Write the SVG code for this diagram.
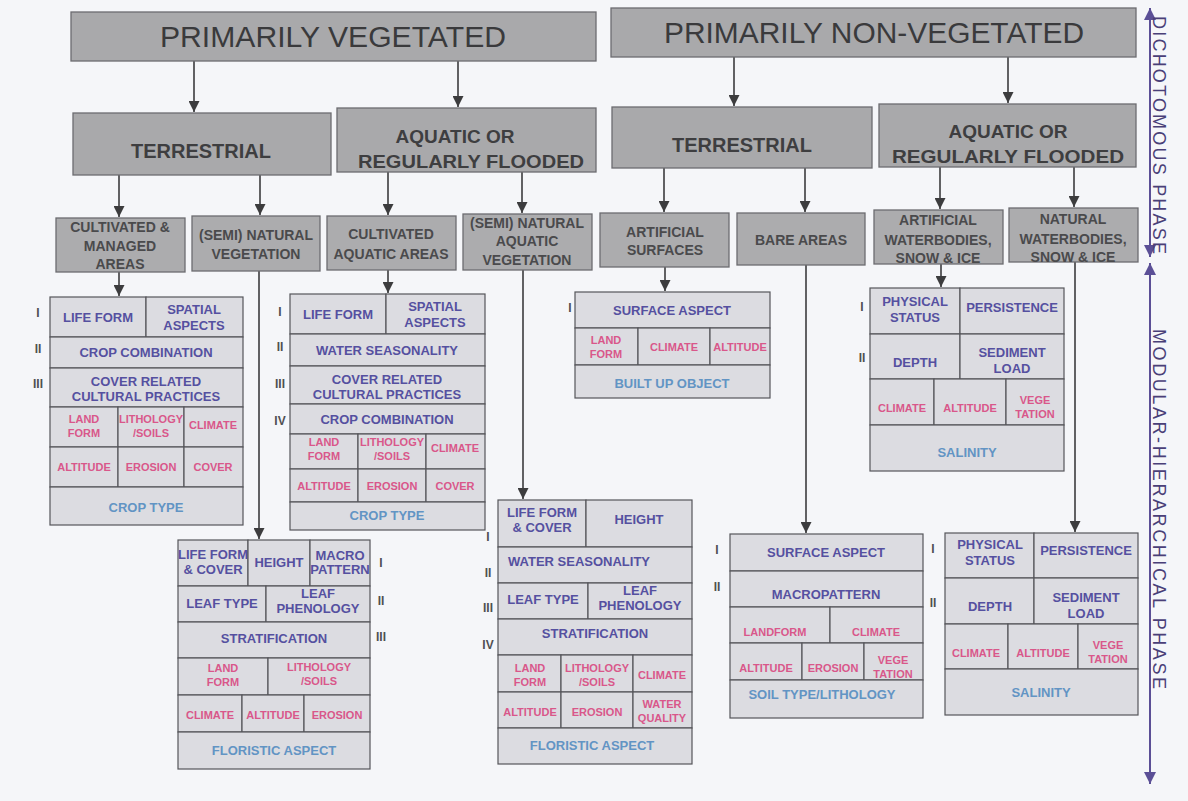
<svg xmlns="http://www.w3.org/2000/svg" width="1188" height="801" viewBox="0 0 1188 801">
<style>
.hdr{fill:#a9a9ab;stroke:#6c6c70;stroke-width:1.3}
.cat{fill:#acacae;stroke:#6c6c70;stroke-width:1.3}
.cell{fill:#dcdce1;stroke:#55555a;stroke-width:1.2}
text{font-family:"Liberation Sans",Arial,sans-serif;text-anchor:middle}
.t1{font-size:29px;fill:#3a3a3c}
.t2{font-size:20px;font-weight:bold;fill:#3e3e40}
.t2b{font-size:19px;font-weight:bold;fill:#3e3e40}
.t3{font-size:14px;font-weight:bold;fill:#4a4a4c}
.a{font-size:13px;font-weight:bold;fill:#5550a0}
.e{font-size:11px;font-weight:bold;fill:#d9578a}
.b{font-size:13px;font-weight:bold;fill:#6294c4}
.n{font-size:12px;font-weight:bold;fill:#505052}
.ph{font-size:18px;fill:#4a3f78;text-anchor:middle}
.con{stroke:#3c3c3e;stroke-width:1.6;fill:none}
.pur{stroke:#5b4f96;stroke-width:2;fill:none}
</style>
<defs>
<marker id="ah" viewBox="0 0 10 10" refX="10" refY="5" markerWidth="11" markerHeight="11" markerUnits="userSpaceOnUse" orient="auto"><path d="M0,0 L10,5 L0,10 z" fill="#3c3c3e"/></marker>
<marker id="ph" viewBox="0 0 10 10" refX="10" refY="5" markerWidth="12" markerHeight="12" markerUnits="userSpaceOnUse" orient="auto-start-reverse"><path d="M0,0 L10,5 L0,10 z" fill="#5b4f96"/></marker>
</defs>
<rect width="1188" height="801" fill="#f5f6f9"/>

<g id="connectors">
<line class="con" x1="194" y1="61" x2="194" y2="112" marker-end="url(#ah)"/>
<line class="con" x1="458" y1="61" x2="458" y2="107" marker-end="url(#ah)"/>
<line class="con" x1="734" y1="57" x2="734" y2="106" marker-end="url(#ah)"/>
<line class="con" x1="1008" y1="57" x2="1008" y2="103" marker-end="url(#ah)"/>
<line class="con" x1="119" y1="175" x2="119" y2="217" marker-end="url(#ah)"/>
<line class="con" x1="260" y1="175" x2="260" y2="215" marker-end="url(#ah)"/>
<line class="con" x1="388" y1="172" x2="388" y2="215" marker-end="url(#ah)"/>
<line class="con" x1="522" y1="172" x2="522" y2="213" marker-end="url(#ah)"/>
<line class="con" x1="664" y1="168" x2="664" y2="212" marker-end="url(#ah)"/>
<line class="con" x1="805" y1="168" x2="805" y2="212" marker-end="url(#ah)"/>
<line class="con" x1="940" y1="167" x2="940" y2="209" marker-end="url(#ah)"/>
<line class="con" x1="1074" y1="167" x2="1074" y2="207" marker-end="url(#ah)"/>
<line class="con" x1="119" y1="272" x2="119" y2="296" marker-end="url(#ah)"/>
<line class="con" x1="259" y1="271" x2="259" y2="539" marker-end="url(#ah)"/>
<line class="con" x1="388" y1="270" x2="388" y2="293" marker-end="url(#ah)"/>
<line class="con" x1="523" y1="270" x2="523" y2="499" marker-end="url(#ah)"/>
<line class="con" x1="665" y1="267" x2="665" y2="291" marker-end="url(#ah)"/>
<line class="con" x1="806" y1="265" x2="806" y2="533" marker-end="url(#ah)"/>
<line class="con" x1="941" y1="264" x2="941" y2="287" marker-end="url(#ah)"/>
<line class="con" x1="1075" y1="262" x2="1075" y2="532" marker-end="url(#ah)"/>
<line class="pur" x1="1150" y1="8" x2="1150" y2="257" marker-start="url(#ph)" marker-end="url(#ph)"/>
<line class="pur" x1="1150" y1="263" x2="1150" y2="784" marker-start="url(#ph)" marker-end="url(#ph)"/>
</g>

<g id="phases">
<text class="ph" transform="translate(1153,135) rotate(90)" textLength="238" lengthAdjust="spacing">DICHOTOMOUS PHASE</text>
<text class="ph" transform="translate(1153,509) rotate(90)" textLength="360" lengthAdjust="spacing">MODULAR-HIERARCHICAL PHASE</text>
</g>

<g id="primarily-vegetated">
<rect class="hdr" x="71" y="12" width="525" height="49"/>
<text class="t1" x="333" y="47" textLength="346" lengthAdjust="spacingAndGlyphs">PRIMARILY VEGETATED</text>
</g>
<g id="primarily-non-vegetated">
<rect class="hdr" x="611" y="8" width="525" height="49"/>
<text class="t1" x="874" y="43" textLength="420" lengthAdjust="spacingAndGlyphs">PRIMARILY NON-VEGETATED</text>
</g>

<g id="veg-terrestrial">
<rect class="hdr" x="73" y="113" width="258" height="62"/>
<text class="t2" x="201" y="158">TERRESTRIAL</text>
</g>
<g id="veg-aquatic">
<rect class="hdr" x="337" y="108" width="259" height="64"/>
<text class="t2b" x="455" y="143">AQUATIC OR</text>
<text class="t2b" x="471" y="168" textLength="226" lengthAdjust="spacingAndGlyphs">REGULARLY FLOODED</text>
</g>
<g id="nonveg-terrestrial">
<rect class="hdr" x="612" y="107" width="260" height="61"/>
<text class="t2" x="742" y="152">TERRESTRIAL</text>
</g>
<g id="nonveg-aquatic">
<rect class="hdr" x="879" y="104" width="257" height="63"/>
<text class="t2b" x="1008" y="138">AQUATIC OR</text>
<text class="t2b" x="1008" y="163" textLength="232" lengthAdjust="spacingAndGlyphs">REGULARLY FLOODED</text>
</g>

<g id="cultivated-managed">
<rect class="cat" x="56" y="218" width="129" height="54"/>
<text class="t3" x="120" y="232">CULTIVATED &amp;</text>
<text class="t3" x="120" y="251">MANAGED</text>
<text class="t3" x="120" y="269">AREAS</text>
</g>
<g id="semi-natural-vegetation">
<rect class="cat" x="192" y="216" width="128" height="55"/>
<text class="t3" x="256" y="240">(SEMI) NATURAL</text>
<text class="t3" x="256" y="259">VEGETATION</text>
</g>
<g id="cultivated-aquatic">
<rect class="cat" x="327" y="216" width="129" height="54"/>
<text class="t3" x="391" y="239">CULTIVATED</text>
<text class="t3" x="391" y="259">AQUATIC AREAS</text>
</g>
<g id="semi-natural-aquatic">
<rect class="cat" x="463" y="214" width="129" height="56"/>
<text class="t3" x="527" y="228">(SEMI) NATURAL</text>
<text class="t3" x="527" y="246">AQUATIC</text>
<text class="t3" x="527" y="265">VEGETATION</text>
</g>
<g id="artificial-surfaces">
<rect class="cat" x="600" y="213" width="129" height="54"/>
<text class="t3" x="665" y="237">ARTIFICIAL</text>
<text class="t3" x="665" y="255">SURFACES</text>
</g>
<g id="bare-areas">
<rect class="cat" x="737" y="213" width="128" height="52"/>
<text class="t3" x="801" y="245">BARE AREAS</text>
</g>
<g id="artificial-waterbodies">
<rect class="cat" x="874" y="210" width="129" height="54"/>
<text class="t3" x="938" y="225">ARTIFICIAL</text>
<text class="t3" x="938" y="245">WATERBODIES,</text>
<text class="t3" x="938" y="263">SNOW &amp; ICE</text>
</g>
<g id="natural-waterbodies">
<rect class="cat" x="1009" y="208" width="129" height="54"/>
<text class="t3" x="1073" y="224">NATURAL</text>
<text class="t3" x="1073" y="244">WATERBODIES,</text>
<text class="t3" x="1073" y="262">SNOW &amp; ICE</text>
</g>

<g id="table-cultivated-managed">
<rect class="cell" x="50" y="297" width="96" height="40"/>
<rect class="cell" x="146" y="297" width="97" height="40"/>
<rect class="cell" x="50" y="337" width="193" height="31"/>
<rect class="cell" x="50" y="368" width="193" height="39"/>
<rect class="cell" x="50" y="407" width="68" height="40"/>
<rect class="cell" x="118" y="407" width="66" height="40"/>
<rect class="cell" x="184" y="407" width="59" height="40"/>
<rect class="cell" x="50" y="447" width="68" height="40"/>
<rect class="cell" x="118" y="447" width="66" height="40"/>
<rect class="cell" x="184" y="447" width="59" height="40"/>
<rect class="cell" x="50" y="487" width="193" height="38"/>
<text class="a" x="98" y="322">LIFE FORM</text>
<text class="a" x="194" y="314">SPATIAL</text>
<text class="a" x="194" y="330">ASPECTS</text>
<text class="a" x="146" y="357">CROP COMBINATION</text>
<text class="a" x="146" y="386">COVER RELATED</text>
<text class="a" x="146" y="401">CULTURAL PRACTICES</text>
<text class="e" x="84" y="423">LAND</text>
<text class="e" x="84" y="437">FORM</text>
<text class="e" x="151" y="423">LITHOLOGY</text>
<text class="e" x="151" y="437">/SOILS</text>
<text class="e" x="213" y="429">CLIMATE</text>
<text class="e" x="84" y="471">ALTITUDE</text>
<text class="e" x="151" y="471">EROSION</text>
<text class="e" x="213" y="471">COVER</text>
<text class="b" x="146" y="512">CROP TYPE</text>
<text class="n" x="38" y="317">I</text>
<text class="n" x="38" y="353">II</text>
<text class="n" x="38" y="388">III</text>
</g>

<g id="table-cultivated-aquatic">
<rect class="cell" x="290" y="294" width="96" height="40"/>
<rect class="cell" x="386" y="294" width="99" height="40"/>
<rect class="cell" x="290" y="334" width="195" height="32"/>
<rect class="cell" x="290" y="366" width="195" height="38"/>
<rect class="cell" x="290" y="404" width="195" height="30"/>
<rect class="cell" x="290" y="434" width="68" height="35"/>
<rect class="cell" x="358" y="434" width="68" height="35"/>
<rect class="cell" x="426" y="434" width="59" height="35"/>
<rect class="cell" x="290" y="469" width="68" height="33"/>
<rect class="cell" x="358" y="469" width="68" height="33"/>
<rect class="cell" x="426" y="469" width="59" height="33"/>
<rect class="cell" x="290" y="502" width="195" height="28"/>
<text class="a" x="338" y="319">LIFE FORM</text>
<text class="a" x="435" y="311">SPATIAL</text>
<text class="a" x="435" y="327">ASPECTS</text>
<text class="a" x="387" y="355">WATER SEASONALITY</text>
<text class="a" x="387" y="384">COVER RELATED</text>
<text class="a" x="387" y="399">CULTURAL PRACTICES</text>
<text class="a" x="387" y="424">CROP COMBINATION</text>
<text class="e" x="324" y="446">LAND</text>
<text class="e" x="324" y="460">FORM</text>
<text class="e" x="392" y="446">LITHOLOGY</text>
<text class="e" x="392" y="460">/SOILS</text>
<text class="e" x="455" y="452">CLIMATE</text>
<text class="e" x="324" y="490">ALTITUDE</text>
<text class="e" x="392" y="490">EROSION</text>
<text class="e" x="455" y="490">COVER</text>
<text class="b" x="387" y="520">CROP TYPE</text>
<text class="n" x="280" y="316">I</text>
<text class="n" x="280" y="351">II</text>
<text class="n" x="280" y="388">III</text>
<text class="n" x="280" y="425">IV</text>
</g>

<g id="table-artificial-surfaces">
<rect class="cell" x="575" y="292" width="195" height="36"/>
<rect class="cell" x="575" y="328" width="63" height="37"/>
<rect class="cell" x="638" y="328" width="72" height="37"/>
<rect class="cell" x="710" y="328" width="60" height="37"/>
<rect class="cell" x="575" y="365" width="195" height="33"/>
<text class="a" x="672" y="315">SURFACE ASPECT</text>
<text class="e" x="606" y="344">LAND</text>
<text class="e" x="606" y="358">FORM</text>
<text class="e" x="674" y="351">CLIMATE</text>
<text class="e" x="740" y="351">ALTITUDE</text>
<text class="b" x="672" y="388">BUILT UP OBJECT</text>
<text class="n" x="570" y="312">I</text>
</g>

<g id="table-artificial-waterbodies">
<rect class="cell" x="870" y="288" width="90" height="46"/>
<rect class="cell" x="960" y="288" width="104" height="46"/>
<rect class="cell" x="870" y="334" width="90" height="45"/>
<rect class="cell" x="960" y="334" width="104" height="45"/>
<rect class="cell" x="870" y="379" width="64" height="46"/>
<rect class="cell" x="934" y="379" width="72" height="46"/>
<rect class="cell" x="1006" y="379" width="58" height="46"/>
<rect class="cell" x="870" y="425" width="194" height="46"/>
<text class="a" x="915" y="306">PHYSICAL</text>
<text class="a" x="915" y="322">STATUS</text>
<text class="a" x="1012" y="312">PERSISTENCE</text>
<text class="a" x="915" y="367">DEPTH</text>
<text class="a" x="1012" y="357">SEDIMENT</text>
<text class="a" x="1012" y="373">LOAD</text>
<text class="e" x="902" y="412">CLIMATE</text>
<text class="e" x="970" y="412">ALTITUDE</text>
<text class="e" x="1035" y="404">VEGE</text>
<text class="e" x="1035" y="418">TATION</text>
<text class="b" x="967" y="457">SALINITY</text>
<text class="n" x="862" y="311">I</text>
<text class="n" x="862" y="362">II</text>
</g>

<g id="table-semi-natural-vegetation">
<rect class="cell" x="178" y="540" width="70" height="46"/>
<rect class="cell" x="248" y="540" width="62" height="46"/>
<rect class="cell" x="310" y="540" width="60" height="46"/>
<rect class="cell" x="178" y="586" width="88" height="36"/>
<rect class="cell" x="266" y="586" width="104" height="36"/>
<rect class="cell" x="178" y="622" width="192" height="36"/>
<rect class="cell" x="178" y="658" width="90" height="37"/>
<rect class="cell" x="268" y="658" width="102" height="37"/>
<rect class="cell" x="178" y="695" width="64" height="37"/>
<rect class="cell" x="242" y="695" width="62" height="37"/>
<rect class="cell" x="304" y="695" width="66" height="37"/>
<rect class="cell" x="178" y="732" width="192" height="37"/>
<text class="a" x="213" y="559">LIFE FORM</text>
<text class="a" x="213" y="574">&amp; COVER</text>
<text class="a" x="279" y="567">HEIGHT</text>
<text class="a" x="340" y="560">MACRO</text>
<text class="a" x="340" y="574">PATTERN</text>
<text class="a" x="222" y="608">LEAF TYPE</text>
<text class="a" x="318" y="598">LEAF</text>
<text class="a" x="318" y="613">PHENOLOGY</text>
<text class="a" x="274" y="643">STRATIFICATION</text>
<text class="e" x="223" y="672">LAND</text>
<text class="e" x="223" y="686">FORM</text>
<text class="e" x="319" y="671">LITHOLOGY</text>
<text class="e" x="319" y="685">/SOILS</text>
<text class="e" x="210" y="719">CLIMATE</text>
<text class="e" x="273" y="719">ALTITUDE</text>
<text class="e" x="337" y="719">EROSION</text>
<text class="b" x="274" y="755">FLORISTIC ASPECT</text>
<text class="n" x="381" y="567">I</text>
<text class="n" x="381" y="605">II</text>
<text class="n" x="381" y="641">III</text>
</g>

<g id="table-semi-natural-aquatic">
<rect class="cell" x="498" y="500" width="88" height="47"/>
<rect class="cell" x="586" y="500" width="106" height="47"/>
<rect class="cell" x="498" y="547" width="194" height="36"/>
<rect class="cell" x="498" y="583" width="90" height="36"/>
<rect class="cell" x="588" y="583" width="104" height="36"/>
<rect class="cell" x="498" y="619" width="194" height="36"/>
<rect class="cell" x="498" y="655" width="63" height="37"/>
<rect class="cell" x="561" y="655" width="72" height="37"/>
<rect class="cell" x="633" y="655" width="59" height="37"/>
<rect class="cell" x="498" y="692" width="63" height="36"/>
<rect class="cell" x="561" y="692" width="72" height="36"/>
<rect class="cell" x="633" y="692" width="59" height="36"/>
<rect class="cell" x="498" y="728" width="194" height="36"/>
<text class="a" x="542" y="517">LIFE FORM</text>
<text class="a" x="542" y="532">&amp; COVER</text>
<text class="a" x="639" y="524">HEIGHT</text>
<text class="a" x="579" y="566">WATER SEASONALITY</text>
<text class="a" x="543" y="604">LEAF TYPE</text>
<text class="a" x="640" y="595">LEAF</text>
<text class="a" x="640" y="610">PHENOLOGY</text>
<text class="a" x="595" y="638">STRATIFICATION</text>
<text class="e" x="530" y="672">LAND</text>
<text class="e" x="530" y="686">FORM</text>
<text class="e" x="597" y="672">LITHOLOGY</text>
<text class="e" x="597" y="686">/SOILS</text>
<text class="e" x="662" y="679">CLIMATE</text>
<text class="e" x="530" y="716">ALTITUDE</text>
<text class="e" x="597" y="716">EROSION</text>
<text class="e" x="662" y="708">WATER</text>
<text class="e" x="662" y="722">QUALITY</text>
<text class="b" x="592" y="750">FLORISTIC ASPECT</text>
<text class="n" x="488" y="541">I</text>
<text class="n" x="488" y="577">II</text>
<text class="n" x="488" y="612">III</text>
<text class="n" x="488" y="649">IV</text>
</g>

<g id="table-bare-areas">
<rect class="cell" x="730" y="534" width="193" height="37"/>
<rect class="cell" x="730" y="571" width="193" height="36"/>
<rect class="cell" x="730" y="607" width="100" height="36"/>
<rect class="cell" x="830" y="607" width="93" height="36"/>
<rect class="cell" x="730" y="643" width="72" height="37"/>
<rect class="cell" x="802" y="643" width="62" height="37"/>
<rect class="cell" x="864" y="643" width="59" height="37"/>
<rect class="cell" x="730" y="680" width="193" height="38"/>
<text class="a" x="826" y="557">SURFACE ASPECT</text>
<text class="a" x="826" y="599">MACROPATTERN</text>
<text class="e" x="775" y="636">LANDFORM</text>
<text class="e" x="876" y="636">CLIMATE</text>
<text class="e" x="766" y="672">ALTITUDE</text>
<text class="e" x="833" y="672">EROSION</text>
<text class="e" x="893" y="664">VEGE</text>
<text class="e" x="893" y="678">TATION</text>
<text class="b" x="822" y="699">SOIL TYPE/LITHOLOGY</text>
<text class="n" x="717" y="554">I</text>
<text class="n" x="717" y="591">II</text>
</g>

<g id="table-natural-waterbodies">
<rect class="cell" x="945" y="533" width="89" height="45"/>
<rect class="cell" x="1034" y="533" width="104" height="45"/>
<rect class="cell" x="945" y="578" width="89" height="46"/>
<rect class="cell" x="1034" y="578" width="104" height="46"/>
<rect class="cell" x="945" y="624" width="63" height="45"/>
<rect class="cell" x="1008" y="624" width="70" height="45"/>
<rect class="cell" x="1078" y="624" width="60" height="45"/>
<rect class="cell" x="945" y="669" width="193" height="46"/>
<text class="a" x="990" y="549">PHYSICAL</text>
<text class="a" x="990" y="565">STATUS</text>
<text class="a" x="1086" y="555">PERSISTENCE</text>
<text class="a" x="990" y="611">DEPTH</text>
<text class="a" x="1086" y="602">SEDIMENT</text>
<text class="a" x="1086" y="618">LOAD</text>
<text class="e" x="976" y="657">CLIMATE</text>
<text class="e" x="1043" y="657">ALTITUDE</text>
<text class="e" x="1108" y="649">VEGE</text>
<text class="e" x="1108" y="663">TATION</text>
<text class="b" x="1041" y="697">SALINITY</text>
<text class="n" x="933" y="553">I</text>
<text class="n" x="933" y="607">II</text>
</g>
</svg>
